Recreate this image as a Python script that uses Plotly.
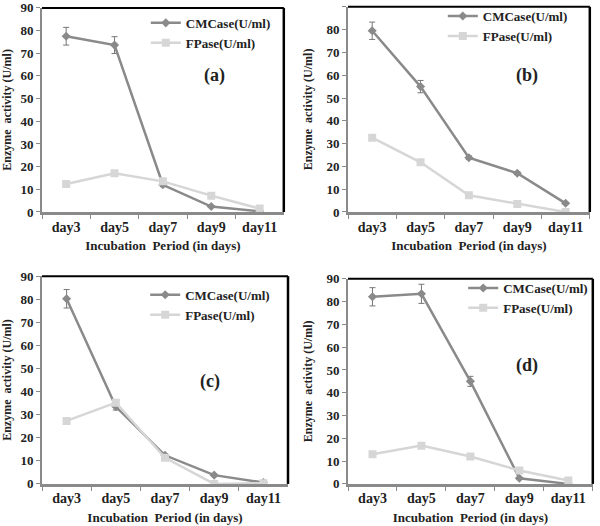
import plotly.graph_objects as go

days = ["day3", "day5", "day7", "day9", "day11"]

# panel (a)
cmc_a = [77.5, 73.6, 12.0, 2.4, 0.3]
cmc_a_err = [3.9, 3.7, 0.8, 0.4, 0.2]
fp_a = [12.3, 17.1, 13.5, 7.2, 1.5]
# panel (b)
cmc_b = [79.5, 55.0, 23.8, 17.0, 3.8]
cmc_b_err = [3.8, 2.7, 0.8, 0.6, 0.4]
fp_b = [32.6, 21.8, 7.3, 3.5, 0.0]
# panel (c)
cmc_c = [80.2, 33.5, 12.4, 3.8, 0.6]
cmc_c_err = [4.0, 1.5, 0.6, 0.4, 0.2]
fp_c = [27.3, 35.2, 11.3, 0.0, 0.3]
# panel (d)
cmc_d = [82.1, 83.4, 45.0, 2.5, 0.0]
cmc_d_err = [4.0, 4.2, 2.2, 0.4, 0.2]
fp_d = [13.0, 16.8, 12.0, 5.9, 1.5]

panels = [("a", cmc_a, cmc_a_err, fp_a), ("b", cmc_b, cmc_b_err, fp_b),
          ("c", cmc_c, cmc_c_err, fp_c), ("d", cmc_d, cmc_d_err, fp_d)]

FONT = "Times New Roman, Liberation Serif, serif"
DARK = "#8a8a8a"
LIGHT = "#d6d6d6"
AXC = "#8a8a8a"
TXT = "#222"

# plot-area domains (paper coords) and legend / label positions
xdom = [[0.07, 0.473], [0.58, 0.983], [0.07, 0.48], [0.58, 0.988]]
ydom = [[0.597, 0.985], [0.597, 0.987], [0.08, 0.475], [0.08, 0.47]]
leg_pos = [(0.243, 0.985), (0.738, 0.998), (0.242, 0.468), (0.772, 0.481)]
lab_pos = [(0.715, 0.667), (0.74, 0.663), (0.683, 0.495), (0.73, 0.576)]

fig = go.Figure()
layout = dict(width=600, height=526, paper_bgcolor="white", plot_bgcolor="white",
              margin=dict(l=0, r=0, t=0, b=0, autoexpand=False),
              font=dict(family=FONT, color=TXT), annotations=[], shapes=[])

for i, (tag, cmc, err, fp) in enumerate(panels):
    n = "" if i == 0 else str(i + 1)
    xa, ya = "x" + n, "y" + n
    lg = "legend" + n
    fig.add_trace(go.Scatter(x=days, y=cmc, xaxis=xa, yaxis=ya, name="CMCase(U/ml)", legend=lg,
        mode="lines+markers", line=dict(color=DARK, width=2.5),
        marker=dict(symbol="diamond", size=7, color=DARK),
        error_y=dict(type="data", array=err, color="#777", thickness=1, width=3)))
    fig.add_trace(go.Scatter(x=days, y=fp, xaxis=xa, yaxis=ya, name="FPase(U/ml)", legend=lg,
        mode="lines+markers", line=dict(color=LIGHT, width=2.5),
        marker=dict(symbol="square", size=8, color=LIGHT)))

    layout["xaxis" + n] = dict(domain=xdom[i], anchor=ya, type="category", range=[-0.5, 4.5],
        automargin=False, showline=True, linecolor=AXC, linewidth=2.5,
        ticks="outside", ticklen=4, tickcolor=AXC, tickson="boundaries",
        showgrid=False, zeroline=False,
        tickfont=dict(family=FONT, size=14, color=TXT, weight="bold"),
        title=dict(text="Incubation\u00a0\u00a0Period (in days)", standoff=8,
                   font=dict(family=FONT, size=13, color=TXT, weight="bold")))
    layout["yaxis" + n] = dict(domain=ydom[i], anchor=xa, range=[0, 90], dtick=10,
        automargin=False, showline=True, linecolor=AXC, linewidth=2,
        ticks="outside", ticklen=4, tickcolor=AXC, showgrid=False, zeroline=False,
        tickfont=dict(family=FONT, size=13, color=TXT, weight="bold"),
        title=dict(text="Enzyme\u00a0\u00a0activity (U/ml)", standoff=11,
                   font=dict(family=FONT, size=12, color=TXT, weight="bold")))
    layout[lg] = dict(x=leg_pos[i][0], y=leg_pos[i][1], xref="paper", yref="paper",
        xanchor="left", yanchor="top", bgcolor="rgba(0,0,0,0)", itemwidth=30,
        font=dict(family=FONT, size=13, color=TXT, weight="bold"), tracegroupgap=0)
    # black frame on top and right
    layout["shapes"] += [
        dict(type="line", xref=xa + " domain", yref=ya + " domain", x0=0, x1=1, y0=1, y1=1,
             line=dict(color="black", width=2)),
        dict(type="line", xref=xa + " domain", yref=ya + " domain", x0=1, x1=1, y0=0, y1=1,
             line=dict(color="black", width=2.5)),
    ]
    layout["annotations"].append(dict(text="(%s)" % tag, xref=xa + " domain", yref=ya + " domain",
        x=lab_pos[i][0], y=lab_pos[i][1], xanchor="center", yanchor="middle", showarrow=False,
        font=dict(family=FONT, size=18, color=TXT, weight="bold")))

fig.update_layout(**layout)
# drop the default 8px page margin so the figure fills the window
fig.write_html("out.html", config={"displayModeBar": False},
               post_script="document.body.style.margin='0';")
